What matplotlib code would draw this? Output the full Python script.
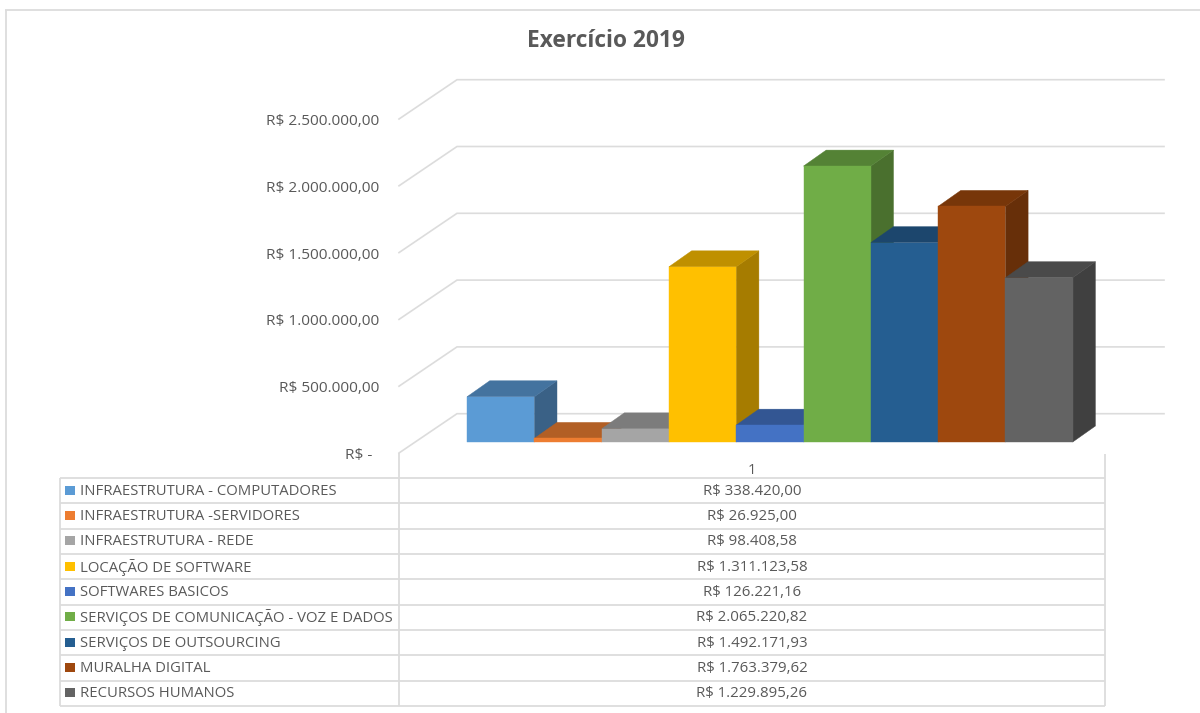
import matplotlib
matplotlib.use("Agg")
import matplotlib.pyplot as plt
from matplotlib.patches import Polygon, Rectangle
from matplotlib.transforms import Affine2D

categories = ["INFRAESTRUTURA - COMPUTADORES", "INFRAESTRUTURA -SERVIDORES", "INFRAESTRUTURA - REDE",
              "LOCAÇÃO DE SOFTWARE", "SOFTWARES BASICOS", "SERVIÇOS DE COMUNICAÇÃO - VOZ E DADOS",
              "SERVIÇOS DE OUTSOURCING", "MURALHA DIGITAL", "RECURSOS HUMANOS"]
values = [338420.00, 26925.00, 98408.58, 1311123.58, 126221.16, 2065220.82, 1492171.93, 1763379.62, 1229895.26]
value_labels = ["R$ 338.420,00", "R$ 26.925,00", "R$ 98.408,58", "R$ 1.311.123,58", "R$ 126.221,16",
                "R$ 2.065.220,82", "R$ 1.492.171,93", "R$ 1.763.379,62", "R$ 1.229.895,26"]
front_colors = ["#5B9BD5", "#ED7D31", "#A5A5A5", "#FFC000", "#4472C4", "#70AD47", "#255E91", "#9E480E", "#636363"]
top_colors = ["#44739F", "#B25F25", "#7C7C7C", "#BF9000", "#335693", "#548235", "#1C466D", "#773609", "#4A4A4A"]
side_colors = ["#3A6186", "#9A5220", "#6A6A6A", "#A67C00", "#2C4A80", "#4A702E", "#183D5E", "#672F09", "#404040"]
tick_values = [0, 500000, 1000000, 1500000, 2000000, 2500000]
tick_labels = ["R$ -", "R$ 500.000,00", "R$ 1.000.000,00", "R$ 1.500.000,00", "R$ 2.000.000,00", "R$ 2.500.000,00"]
title = "Exercício 2019"
table_header = "1"

W, H = 1200, 713
FONT = "Open Sans"
GRID = "#DCDCDC"
TEXT = "#595959"

fig = plt.figure(figsize=(W / 100, H / 100), dpi=100, facecolor="white")

# value axis: full-figure axes whose scale puts the bars' base at pixel row 442
PX_PER_UNIT = 67.3          # pixels per category slot
PX_PER_VALUE = 66.8 / 500000
X0, Y0 = 467, 442
ax = fig.add_axes([0, 0, 1, 1])
ax.set_xlim(-X0 / PX_PER_UNIT, (W - X0) / PX_PER_UNIT)
ax.set_ylim(-(H - Y0) / PX_PER_VALUE, Y0 / PX_PER_VALUE)
ax.axis("off")

# pixel-space overlay for frame and table layout
pix = Affine2D().scale(1 / W, -1 / H).translate(0, 1) + fig.transFigure


def hline(x0, x1, y, color=GRID, lw=1.3):
    fig.add_artist(plt.Line2D([x0, x1], [y, y], color=color, lw=lw, transform=pix, solid_capstyle="butt"))


def vline(x, y0, y1, color=GRID, lw=1.3):
    fig.add_artist(plt.Line2D([x, x], [y0, y1], color=color, lw=lw, transform=pix, solid_capstyle="butt"))


# outer frame (open on the right)
hline(5, W, 10)
vline(5.5, 10, 713)

# 3D projection offsets
DX = 22.7 / PX_PER_UNIT
DY = 16 / PX_PER_VALUE
WALL_DX = 58 / PX_PER_UNIT
WALL_UP = 28.3 / PX_PER_VALUE
WALL_DOWN = 11 / PX_PER_VALUE
left_front = (399 - X0) / PX_PER_UNIT
left_back = left_front + WALL_DX
right_back = (1164 - X0) / PX_PER_UNIT
LABEL_DROP = 13.5 / PX_PER_VALUE

# gridlines: slanted on the side wall, horizontal on the back wall
for tv, tl in zip(tick_values, tick_labels):
    ax.plot([left_front, left_back, right_back],
            [tv - WALL_DOWN, tv + WALL_UP, tv + WALL_UP],
            color=GRID, lw=1.2, solid_joinstyle="miter", zorder=1)
    ax.text((372 - X0) / PX_PER_UNIT if tv == 0 else (379 - X0) / PX_PER_UNIT, tv - LABEL_DROP, tl,
            ha="right", va="center", fontsize=11.1, color=TEXT, family=FONT)

# bars, drawn left to right so each front covers the neighbour's side
for i, v in enumerate(values):
    x0, x1 = i, i + 1
    ax.add_patch(Polygon([(x1, 0), (x1 + DX, DY), (x1 + DX, v + DY), (x1, v)],
                         closed=True, fc=side_colors[i], ec=side_colors[i], lw=0.3, zorder=2 + i))
    ax.add_patch(Polygon([(x0, v), (x0 + DX, v + DY), (x1 + DX, v + DY), (x1, v)],
                         closed=True, fc=top_colors[i], ec=top_colors[i], lw=0.3, zorder=2 + i))
    ax.add_patch(Rectangle((x0, 0), 1, v, fc=front_colors[i], ec=front_colors[i], lw=0.3, zorder=2 + i))

# title
fig.text(606 / W, 1 - 41 / H, title, ha="center", va="center", fontsize=16.4, fontweight="bold",
         color=TEXT, family=FONT)

# data table
T_LEFT, T_MID, T_RIGHT = 60, 399, 1105
T_TOP, ROW = 478, 25.33
n = len(categories)
T_BOT = T_TOP + n * ROW
for k in range(n + 1):
    hline(T_LEFT, T_RIGHT, T_TOP + k * ROW)
vline(T_LEFT, T_TOP, T_BOT)
vline(T_MID, 453, T_BOT)
vline(T_RIGHT, 454, T_BOT)
fig.text((T_MID + T_RIGHT) / 2 / W, 1 - 471 / H, table_header, ha="center", va="center",
         fontsize=10.5, color=TEXT, family=FONT)
for k, (cat, lab, col) in enumerate(zip(categories, value_labels, front_colors)):
    yc = T_TOP + (k + 0.5) * ROW
    fig.add_artist(Rectangle((65, yc - 5), 10, 9, fc=col, ec="none", transform=pix))
    fig.text(80 / W, 1 - (yc + 0.5) / H, cat, ha="left", va="center", fontsize=10.75, color=TEXT, family=FONT)
    fig.text((T_MID + T_RIGHT) / 2 / W, 1 - (yc + 0.5) / H, lab, ha="center", va="center", fontsize=10.8,
             color=TEXT, family=FONT)

fig.savefig("out.png", dpi=100, facecolor="white")
